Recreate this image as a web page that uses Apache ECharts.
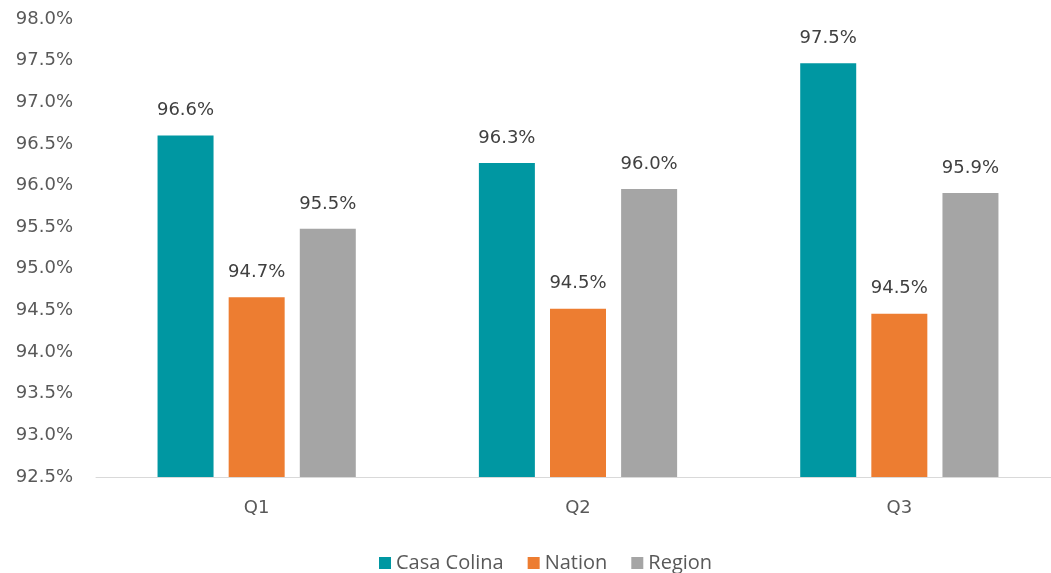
<!DOCTYPE html>
<html>
<head>
<meta charset="utf-8">
<script src="https://cdn.jsdelivr.net/npm/echarts@6/dist/echarts.min.js"></script>
<style>
  html, body { margin: 0; padding: 0; background: #fff; overflow: hidden; }
  #chart { width: 1060px; height: 573px; }
</style>
</head>
<body>
<div id="chart"></div>
<script>
// data
var quarters = ['Q1', 'Q2', 'Q3'];
var casaColina = [96.6, 96.27, 97.47];
var nation = [94.66, 94.52, 94.46];
var region = [95.48, 95.96, 95.91];

var font = 'DejaVu Sans';
var myChart = echarts.init(document.getElementById('chart'));

function barSeries(name, data, color) {
  return {
    name: name,
    type: 'bar',
    data: data,
    barWidth: 56,
    barGap: '27%',
    itemStyle: { color: color },
    label: {
      show: true,
      position: 'top',
      distance: 16,
      color: '#404040',
      fontFamily: font,
      fontSize: 18,
      formatter: function (p) { return p.value.toFixed(1) + '%'; }
    }
  };
}

myChart.setOption({
  animation: false,
  grid: { left: 96, right: 0, top: 19, bottom: 96 },
  legend: {
    top: 548,
    left: 374,
    itemWidth: 12,
    itemHeight: 12,
    itemGap: 24,
    icon: 'rect',
    textStyle: { color: '#595959', fontFamily: 'Open Sans', fontSize: 20 },
    data: ['Casa Colina', 'Nation', 'Region']
  },
  xAxis: {
    type: 'category',
    data: quarters,
    axisLine: { lineStyle: { color: '#d9d9d9', width: 1 } },
    axisTick: { show: false },
    axisLabel: { color: '#595959', fontFamily: font, fontSize: 18, margin: 22 }
  },
  yAxis: {
    type: 'value',
    min: 92.5,
    max: 98,
    interval: 0.5,
    splitLine: { show: false },
    axisLine: { show: false },
    axisTick: { show: false },
    axisLabel: {
      color: '#595959',
      fontFamily: font,
      fontSize: 18,
      margin: 23,
      formatter: function (v) { return v.toFixed(1) + '%'; }
    }
  },
  series: [
    barSeries('Casa Colina', casaColina, '#0097a2'),
    barSeries('Nation', nation, '#ed7d31'),
    barSeries('Region', region, '#a5a5a5')
  ]
});
</script>
</body>
</html>
